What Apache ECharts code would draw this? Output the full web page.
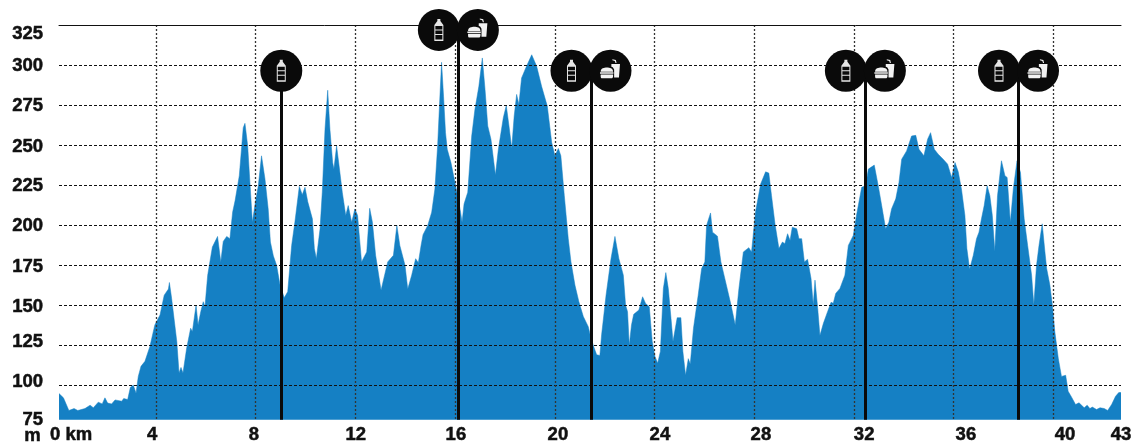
<!DOCTYPE html>
<html><head><meta charset="utf-8">
<style>html,body{margin:0;padding:0;background:#fff}#c{width:1139px;height:445px}</style>
<script src="https://cdn.jsdelivr.net/npm/echarts@6/dist/echarts.min.js"></script>
</head><body><div id="c"></div>
<script>
const km = [0,0.18,0.40,0.61,0.76,1.05,1.26,1.39,1.59,1.75,1.86,1.97,2.13,2.27,2.54,2.62,2.78,2.89,3.01,3.12,3.21,3.32,3.48,3.68,3.88,4.09,4.26,4.43,4.47,4.56,4.77,4.86,4.94,5.02,5.17,5.33,5.40,5.55,5.63,5.74,5.84,5.91,6.02,6.21,6.42,6.55,6.65,6.79,6.92,7.03,7.13,7.30,7.46,7.53,7.64,7.73,7.83,7.93,8.07,8.20,8.34,8.47,8.56,8.68,8.81,8.95,9.12,9.26,9.42,9.55,9.73,9.85,9.96,10.07,10.15,10.26,10.34,10.42,10.57,10.66,10.77,10.88,10.97,11.08,11.13,11.24,11.34,11.47,11.61,11.71,11.85,11.98,12.09,12.25,12.46,12.58,12.69,12.82,13.04,13.31,13.54,13.68,13.80,14.01,14.12,14.28,14.44,14.55,14.66,14.74,14.93,15.09,15.22,15.33,15.43,15.49,15.57,15.65,15.72,15.87,16.06,16.26,16.32,16.40,16.55,16.71,16.84,17.00,17.14,17.25,17.36,17.49,17.67,17.79,17.99,18.11,18.22,18.33,18.43,18.53,18.62,18.73,18.93,19.14,19.34,19.54,19.77,19.95,20.08,20.22,20.32,20.46,20.62,20.73,20.89,21.05,21.23,21.43,21.54,21.67,21.77,21.90,21.97,22.15,22.35,22.51,22.67,22.85,22.94,23.02,23.09,23.18,23.27,23.48,23.63,23.75,23.90,24.02,24.13,24.24,24.35,24.47,24.57,24.67,24.78,24.86,24.94,25.03,25.18,25.26,25.37,25.48,25.56,25.69,25.88,26.02,26.15,26.22,26.38,26.46,26.66,26.80,27.07,27.21,27.38,27.53,27.71,27.93,28.04,28.20,28.41,28.61,28.74,28.85,28.99,29.15,29.29,29.39,29.50,29.60,29.69,29.87,29.96,30.07,30.18,30.31,30.45,30.54,30.61,30.72,30.81,30.95,31.12,31.26,31.35,31.45,31.62,31.82,31.96,32.16,32.30,32.50,32.66,32.77,33.01,33.17,33.31,33.47,33.60,33.71,33.88,34.01,34.12,34.32,34.52,34.69,34.82,35.02,35.17,35.29,35.44,35.60,35.80,35.98,36.14,36.28,36.41,36.54,36.68,36.76,36.87,37.02,37.15,37.25,37.35,37.46,37.58,37.69,37.79,37.89,38.00,38.16,38.30,38.39,38.52,38.64,38.79,38.93,39.08,39.22,39.38,39.47,39.58,39.68,39.81,39.92,39.99,40.12,40.22,40.32,40.46,40.59,40.76,40.86,41.00,41.16,41.30,41.51,41.63,41.74,41.84,42.01,42.15,42.32,42.46,42.62,42.78,42.91,43];
const elevation = [94.6,91.9,84,85.2,84,85.2,87.3,85.7,89.2,88.1,91.9,88.6,88.1,90.6,89.8,91.5,90.8,98.5,99.8,94.8,105.3,111.6,114.7,124,137.5,143.7,156.1,159.9,164,154.1,127.1,107.4,110.9,107.4,123,135.4,133.3,149.9,137.5,145.8,152,148.9,168.6,186.2,192.8,176.9,189.7,192.8,191.4,208,215.2,230.8,260.8,263.5,249.4,226.6,201.7,212.1,224.5,243.2,228.7,210,189.3,180.6,174.8,162.4,154.5,158.2,187.2,201.7,224.1,218.9,223.5,214.6,215.2,203.8,185.2,178.9,197.6,220.4,259.8,284.2,259.8,239,234.9,249.4,237,220.4,205.9,212.1,201.7,210,205.9,176.9,183.1,210.4,201.7,181,159.2,176.9,181,199.7,187.2,174.8,159.9,168.6,178.9,176.4,187.2,193.9,199.7,208,222.5,249.4,282.6,301.7,280.5,257.7,247.3,239,224.5,208,201.7,213.1,220.4,255.6,272.2,286.7,304.4,284.7,261.9,253.6,231.2,247.3,267,274.7,261.9,247.8,268.1,281.6,275.3,291.9,299.2,306.4,299.2,286.7,274.3,251.5,243.2,247.8,243.2,218.3,191.4,176.9,162.4,152,142.7,136.4,129.2,123,118.8,118.4,131.3,156.1,178.9,192.8,178.9,168.6,149.9,145.8,124.6,137.5,144.1,146.8,155.1,150.9,148.9,127.1,117.8,113.6,120.9,160.3,170.2,160.3,141.6,127.1,128.1,142,142,120.9,106,116.4,113,135.4,156.1,172.7,176.9,199.7,207.5,195.5,193,176.9,159.2,149.9,137.5,160.3,183.1,185.8,183.1,208,225.6,233.2,232.4,218.3,200.7,185.2,189.3,188.3,194.5,190.3,198.6,197.6,191.4,191.4,176.9,178.5,166.5,149.9,165.5,147.8,130.8,138.5,145.8,151.6,151,157.2,160.3,168.6,187.2,193.4,206.9,223.5,224.5,234.9,237.4,224.5,212.1,197.6,201.7,210,216.3,226.6,241.1,246.3,255.6,256,247.3,243.2,253.6,257.7,247.3,244.2,241.1,238,229.7,239,233.2,222.5,205.9,185.2,172.3,181,191.4,195.5,203.8,212.1,224.5,218.3,205.9,183.5,218.3,240.1,230.8,229.7,201.7,222.5,240.1,232.8,203.8,187.2,168.6,149.9,174.8,187.2,200.7,183.1,172.7,162.4,149.9,133.3,116.7,105.3,106,96,92.3,87.7,88.8,85.7,87.3,85.2,86.1,84.6,85.7,85.2,84,87.7,92.9,95.2,95.2];
const xTickLabels = ['0 km','4','8','12','16','20','24','28','32','36','40','43'];
const xLabelAt = [0.49,3.77,7.89,12.02,16.07,20.2,24.33,28.42,32.6,36.72,40.73,43];
const xGridKm = [4,8,12,16,20,24,28,32,36,40];
const yGrid = [100,125,150,175,200,225,250,275,300];
const yLabelAt = [78.2,101.7,126.6,148.9,173.8,199.2,224.1,249,274.5,299.3,319.2];
const stationKm = [9.0,16.17,21.54,32.65,38.85];
const stationTop = [296.4,321.9,296.4,296.4,296.4];
const stationHasFood = [false,true,true,true,true];

const bottle = 'path://M3 0H6V2L9 6V22H0V6L3 2ZM1 7V10.5H8V7ZM1 11.5V15H8V11.5ZM1 16V20.5H8V16Z';
const food = 'path://M33 14H58L55 53H41V30C38 24 36 22 33 22ZM48 11L46 2L36 0V3L43 5L45 11ZM2 36C2 26 12 24 20 24C28 24 38 26 38 36ZM0 38H39V42H0ZM2 44H38V49C38 52 36 55 33 55H6C3 55 2 52 2 49Z';
const labelFont = {color:'#111',fontFamily:'"Liberation Sans",Arial,sans-serif',fontWeight:'bold',fontSize:18.5,textBorderColor:'#111',textBorderWidth:0.5};

const markerData = (hasFoodOnly, dx) => stationKm.map((k,i)=>({k,i})).filter(o=>!hasFoodOnly||stationHasFood[o.i]).map(o=>({
  value:[o.k,stationTop[o.i]],
  symbolOffset: dx(o.i)
}));

const chart = echarts.init(document.getElementById('c'),null,{renderer:'canvas'});
chart.setOption({
  animation:false,
  backgroundColor:'#fff',
  grid:{left:59,right:18,top:25,bottom:23,containLabel:false},
  xAxis:[
    {type:'value',min:0,max:43,position:'bottom',axisLine:{show:false},axisTick:{show:false},splitLine:{show:false},
     axisLabel:Object.assign({customValues:xLabelAt,margin:6,formatter:v=>xTickLabels[xLabelAt.indexOf(v)]},labelFont)},
    {type:'value',min:0.108,max:42.72,position:'top',z:3,axisLine:{show:true,onZero:false,lineStyle:{color:'#111',width:1}},
     axisTick:{show:false,customValues:xGridKm},axisLabel:{show:false},
     splitLine:{show:true,lineStyle:{color:'#333',width:1.3,type:[2,2]}}}
  ],
  yAxis:[{type:'value',min:78.2,max:325,z:3,axisLine:{show:false},axisTick:{show:false,customValues:yGrid},
     splitLine:{show:true,lineStyle:{color:'#111',width:1,type:[3,2]}},
     axisLabel:Object.assign({customValues:yLabelAt,margin:16,formatter:v=>String(Math.round(v/25)*25)},labelFont)}],
  graphic:[{type:'text',left:24,top:426,style:{text:'m',fill:'#111',stroke:'#111',lineWidth:0.5,font:'bold 18.5px "Liberation Sans",Arial,sans-serif'}}],
  series:[
    {type:'line',name:'Elevation',data:km.map((k,i)=>[k,elevation[i]]),symbol:'none',smooth:false,z:2,
     lineStyle:{width:0.5,color:'#1580c4'},areaStyle:{color:'#1580c4',opacity:1},
     markLine:{silent:true,symbol:'none',z:6,label:{show:false},lineStyle:{color:'#0a0a0a',width:3,type:'solid'},
       data:stationKm.map((k,i)=>[{coord:[k,78.2]},{coord:[k,stationTop[i]]}])}},
    {type:'scatter',name:'Water disc',symbol:'circle',symbolSize:42,z:10,clip:false,silent:true,itemStyle:{color:'#0a0a0a',opacity:1},
     data:markerData(false,i=>[stationHasFood[i]?-19.5:0,0])},
    {type:'scatter',name:'Food disc',symbol:'circle',symbolSize:42,z:10,clip:false,silent:true,itemStyle:{color:'#0a0a0a',opacity:1},
     data:markerData(true,()=>[19.5,0])},
    {type:'scatter',name:'Water',symbol:bottle,symbolSize:[9,22],z:11,clip:false,silent:true,itemStyle:{color:'#e6e6e6',opacity:1},
     data:markerData(false,i=>[stationHasFood[i]?-19.5:0,0])},
    {type:'scatter',name:'Food',symbol:food,symbolSize:[20,19],z:11,clip:false,silent:true,itemStyle:{color:'#f2f2f2',opacity:1},
     data:markerData(true,()=>[19,-2])}
  ]
});
</script></body></html>
